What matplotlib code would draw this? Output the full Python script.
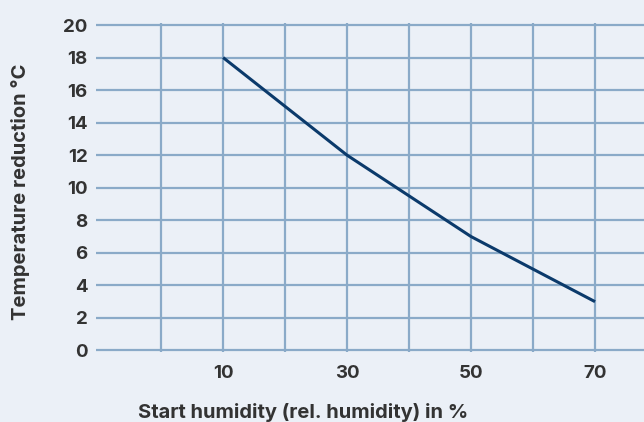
#!/usr/bin/env python3
"""Temperature reduction vs start humidity."""

import matplotlib.pyplot as plt

humidity = [10, 20, 30, 40, 50, 60, 70]
temp_reduction = [18, 15, 12, 9.5, 7, 5, 3]

x_grid = [0, 10, 20, 30, 40, 50, 60, 70]
x_ticks = [10, 30, 50, 70]
y_ticks = [0, 2, 4, 6, 8, 10, 12, 14, 16, 18, 20]

BG = "#ebf0f7"
GRID = "#8aaac8"
LINE = "#0b3a6b"
TEXT = "#333333"

plt.rcParams["font.family"] = ["Inter", "DejaVu Sans"]

fig = plt.figure(figsize=(6.44, 4.22), dpi=100, facecolor=BG)
ax = fig.add_axes([96 / 644, 0.1656, 548 / 644, 0.779], facecolor=BG)

for xv in x_grid:
    ax.axvline(xv, color=GRID, lw=1.6, zorder=1)
for yv in y_ticks:
    ax.axhline(yv, color=GRID, lw=1.6, zorder=1)

ax.plot(humidity, temp_reduction, color=LINE, lw=2.2, zorder=3, solid_capstyle="butt")

ax.set_xlim(-10.5, 77.9)
ax.set_ylim(-0.1, 20.1)
ax.set_xticks(x_ticks)
ax.set_yticks(y_ticks)
ax.tick_params(axis="x", length=0, pad=9, labelsize=13.5, labelcolor=TEXT)
ax.tick_params(axis="y", length=0, pad=6, labelsize=13.5, labelcolor=TEXT)
for lab in ax.get_xticklabels() + ax.get_yticklabels():
    lab.set_fontweight("bold")
for side in ["top", "right", "bottom", "left"]:
    ax.spines[side].set_visible(False)

ax.set_xlabel("Start humidity (rel. humidity) in %", fontsize=14.5, fontweight="bold",
              color=TEXT)
ax.xaxis.set_label_coords(0.378, -0.155)
ax.set_ylabel("Temperature reduction °C", fontsize=14.5, fontweight="bold",
              color=TEXT)
ax.yaxis.set_label_coords(-0.12, 0.487)

fig.savefig("out.png", dpi=100, facecolor=BG)
